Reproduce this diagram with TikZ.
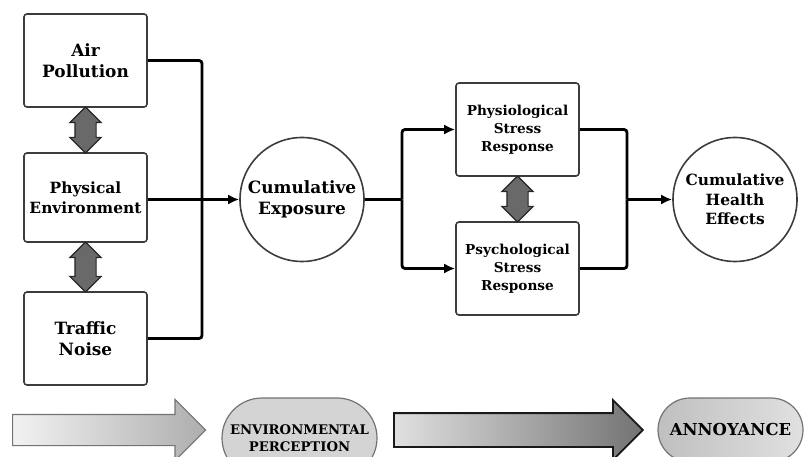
\documentclass[tikz,border=0pt]{standalone}
\usepackage{fontspec}
\setmainfont{DejaVu Serif}
\usetikzlibrary{arrows.meta, positioning, calc, shapes.arrows, shapes.misc}
\definecolor{boxline}{RGB}{60,60,60}
\definecolor{twofill}{RGB}{105,105,105}
\definecolor{pillfill}{RGB}{212,212,212}
\tikzset{
    % rounded box holding one factor or response
    block/.style={draw=boxline, line width=1.6bp, rounded corners=3bp, fill=white,
        minimum width=123bp, minimum height=93bp, align=center, inner sep=2bp,
        font=\fontsize{17}{21}\selectfont\bfseries},
    % circle for the cumulative stages
    hub/.style={circle, draw=boxline, line width=1.6bp, minimum size=124bp,
        inner sep=0pt, align=center, font=\fontsize{15.5}{19.5}\selectfont\bfseries},
    % thick connector with a filled head
    link/.style={line width=2.8bp, rounded corners=3bp, -{Latex[length=11bp, width=10bp]}},
    bus/.style={line width=2.8bp, rounded corners=3bp},
    % grey two-way arrow between neighbouring boxes
    twoway/.style={double arrow, rotate=90, fill=twofill, draw=black!85, line width=1.2bp,
        minimum height=46bp, double arrow head extend=5bp, inner xsep=0pt, inner ysep=10bp},
    % broad shaded arrows of the bottom row
    flowarrow/.style={single arrow, single arrow head extend=15bp, anchor=tail,
        inner xsep=0pt, inner ysep=15bp},
    % pill shaped stage label
    pill/.style={rounded rectangle, draw=black!55, line width=1.2bp, minimum height=64bp,
        align=center, inner sep=0pt, font=\fontsize{13.3}{17}\selectfont\bfseries},
}

\begin{document}
\begin{tikzpicture}[x=1bp, y=-1bp]
    \useasboundingbox (0,0) rectangle (804,457);

    % ---- environmental factors ----
    \node[block] (air)   at (85.5, 60.5)  {Air\\Pollution};
    \node[block, minimum height=89bp, font=\fontsize{15.5}{20}\selectfont\bfseries]
        (phys) at (85.5, 197.5) {Physical\\Environment};
    \node[block] (noise) at (85.5, 338.5) {Traffic\\Noise};

    \node[twoway] (tw1) at ($(air.south)!0.5!(phys.north)$)   {};
    \node[twoway, minimum height=50bp] (tw2) at ($(phys.south)!0.5!(noise.north)$) {};

    \coordinate (busin) at (202, 199.5);
    \draw[bus] (air.east) -| (busin);
    \draw[bus] (noise.east) -| (busin);

    \node[hub, font=\fontsize{17}{21}\selectfont\bfseries] (expo) at (302, 199.5)
        {Cumulative\\Exposure};
    \draw[link] (phys.east |- busin) -- (expo.west);

    % ---- stress responses ----
    \node[block, font=\fontsize{13.7}{18}\selectfont\bfseries] (physio) at (517.5, 129.5)
        {Physiological\\Stress\\Response};
    \node[block, font=\fontsize{13.7}{18}\selectfont\bfseries] (psycho) at (517.5, 268.5)
        {Psychological\\Stress\\Response};
    \node[twoway] (tw3) at ($(physio.south)!0.5!(psycho.north)$) {};

    \coordinate (split) at (402, 199.5);
    \draw[bus] (expo.east) -- (split);
    \draw[link] (split) |- (physio.west);
    \draw[link] (split) |- (psycho.west);

    \node[hub] (health) at (735, 199.5) {Cumulative\\Health\\Effects};
    \coordinate (join) at (627, 199.5);
    \draw[bus] (physio.east) -| (join);
    \draw[bus] (psycho.east) -| (join);
    \draw[link] (join) -- (health.west);

    % ---- bottom row ----
    \node[flowarrow, minimum height=193bp, left color=white!95!black, right color=black!32,
          draw=black!55, line width=1.2bp] (fa1) at (12, 430) {};
    \node[pill, minimum width=155bp, minimum height=80bp, fill=pillfill] (perc)
        at (299.5, 438) {ENVIRONMENTAL\\PERCEPTION};
    \node[flowarrow, minimum height=249bp, inner ysep=16bp, single arrow head extend=13bp,
          left color=black!12, right color=black!55, draw=black!90, line width=1.8bp]
        (fa2) at (393, 430) {};
    \node[pill, minimum width=145bp, left color=black!25, right color=black!12,
          font=\fontsize{16.5}{20}\selectfont\bfseries] (annoy) at (730.5, 430) {ANNOYANCE};

\end{tikzpicture}
\end{document}
